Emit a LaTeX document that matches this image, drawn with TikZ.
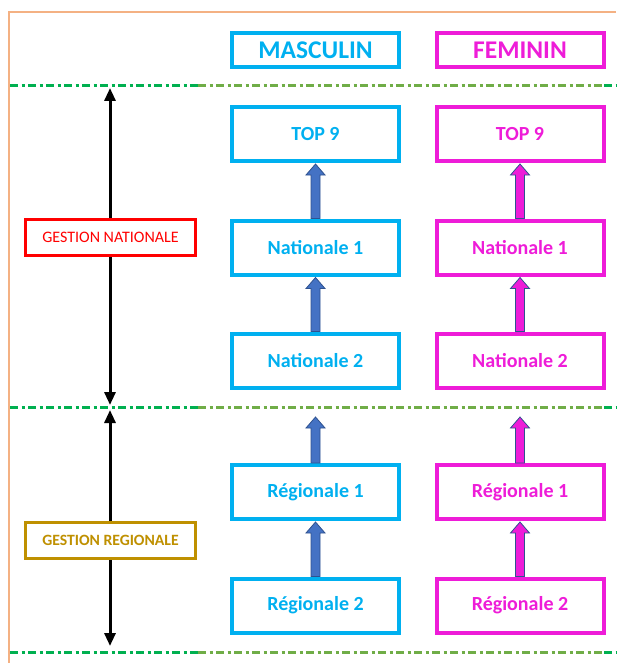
\documentclass[tikz,border=0pt]{standalone}
\usepackage{fontspec}
\setmainfont{Carlito}
\usetikzlibrary{arrows.meta,calc}
\definecolor{cblue}{HTML}{00B0F0}
\definecolor{cmag}{HTML}{EE1CD8}
\definecolor{cgold}{HTML}{BF9000}
\definecolor{corange}{HTML}{F4B183}
\definecolor{gdark}{HTML}{00B050}
\definecolor{glight}{HTML}{70AD47}
\definecolor{arrblue}{HTML}{4472C4}
\definecolor{arredge}{HTML}{2F528F}
\begin{document}
\begin{tikzpicture}[x=1pt,y=-1pt,
  box/.style={draw,line width=4pt,minimum width=167pt,minimum height=54pt,inner sep=0pt,font=\fontsize{20}{24}\selectfont\bfseries},
  mbox/.style={box,draw=cblue,text=cblue},
  fbox/.style={box,draw=cmag,text=cmag},
  head/.style={minimum height=34pt,font=\fontsize{25.5}{28}\selectfont\bfseries},
  gbox/.style={draw,line width=3pt,minimum width=170pt,minimum height=36pt,inner sep=0pt,fill=white},
  sep/.style={line width=3pt,dash pattern=on 8pt off 3.5pt on 3pt off 3.5pt},
  blk/.style={line width=0.8pt,draw=arredge,to path={let \p1=(\tikztostart),\p2=(\tikztotarget) in
     (\x1-4.5pt,\y1) -- (\x1-4.5pt,\y2-11pt) -- (\x1-9.5pt,\y2-11pt) -- (\x1,\y2) -- (\x1+9.5pt,\y2-11pt) -- (\x1+4.5pt,\y2-11pt) -- (\x1+4.5pt,\y1) -- cycle}},
  mblk/.style={blk,fill=arrblue},
  fblk/.style={blk,fill=cmag},
  dbl/.style={line width=3pt,{Triangle[length=13pt,width=11pt]}-{Triangle[length=13pt,width=11pt]}}
]
\useasboundingbox (0,0) rectangle (616,663);
% frame
\draw[corange,line width=1.2pt] (9,663) -- (9,12) -- (616,12);
% separators
\foreach \yy in {86,407,652}{
  \draw[sep,gdark] (10,\yy) -- (198,\yy);
  \draw[sep,glight] (198,\yy) -- (604,\yy);
  \draw[sep,gdark] (604,\yy) -- (616,\yy);
}
% headers
\node[mbox,head] (masc) at (315.5,50) {MASCULIN};
\node[fbox,head] (fem) at (520,50) {FEMININ};
% masculin column
\node[mbox] (mtop) at (315.5,134) {TOP 9};
\node[mbox] (mn1) at (315.5,247.5) {Nationale 1};
\node[mbox] (mn2) at (315.5,360.5) {Nationale 2};
\node[mbox] (mr1) at (315.5,492) {Régionale 1};
\node[mbox] (mr2) at (315.5,605.5) {Régionale 2};
% feminin column
\node[fbox] (ftop) at (520,134) {TOP 9};
\node[fbox] (fn1) at (520,247.5) {Nationale 1};
\node[fbox] (fn2) at (520,360.5) {Nationale 2};
\node[fbox] (fr1) at (520,492) {Régionale 1};
\node[fbox] (fr2) at (520,605.5) {Régionale 2};
% block arrows
\coordinate (mtip) at (315.5,417);
\coordinate (ftip) at (520,417);
\draw[mblk] (mn1.north) to ([yshift=-1pt]mtop.south);
\draw[mblk] (mn2.north) to ([yshift=-1pt]mn1.south);
\draw[mblk] (mr1.north) to (mtip);
\draw[mblk] (mr2.north) to ([yshift=-1pt]mr1.south);
\draw[fblk] (fn1.north) to ([yshift=-1pt]ftop.south);
\draw[fblk] (fn2.north) to ([yshift=-1pt]fn1.south);
\draw[fblk] (fr1.north) to (ftip);
\draw[fblk] (fr2.north) to ([yshift=-1pt]fr1.south);
% management arrows
\coordinate (a1) at (110,88);
\coordinate (a2) at (110,405);
\coordinate (b1) at (110,410);
\coordinate (b2) at (110,646);
\draw[dbl] (a1) -- (a2);
\draw[dbl] (b1) -- (b2);
\node[gbox,draw=red,text=red,font=\fontsize{16}{19}\selectfont] (gn) at (110.5,237.5) {GESTION NATIONALE};
\node[gbox,draw=cgold,text=cgold,font=\fontsize{15.7}{19}\selectfont\bfseries] (gr) at (110.5,540.5) {GESTION REGIONALE};
\end{tikzpicture}
\end{document}
